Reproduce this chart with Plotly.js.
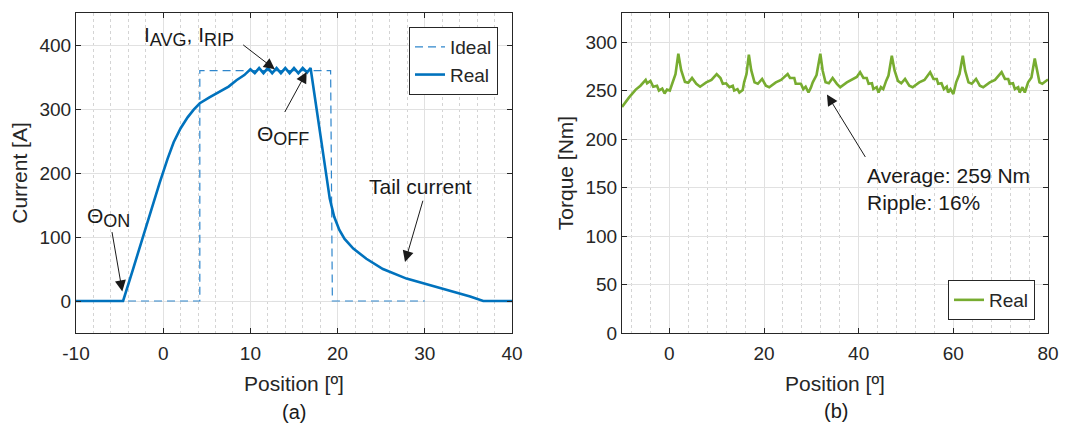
<!DOCTYPE html>
<html>
<head>
<meta charset="utf-8">
<script src="https://cdn.plot.ly/plotly-3.0.1.min.js"></script>
<style>html,body{margin:0;padding:0;background:#fff;}#chart{width:1075px;height:427px;}</style>
</head>
<body>
<div id="chart"></div>
<script>
// ---------- data: panel (a) current ----------
const idealPos = [-10, 4.2, 4.2, 19.2, 19.4, 30];
const idealCurrent = [0, 0, 360, 360, 0, 0];

const realPos = [-10, -4.6, -3.5, -2.3, -1.5, -0.4, 0.5, 1.2, 2.0, 2.8, 3.5, 4.2, 5.3, 6.5, 7.5, 8.4, 9.3,
  10.0, 10.5, 11.0, 11.5, 12.0, 12.5, 13.0, 13.5, 14.0, 14.5, 15.0, 15.5, 16.0, 16.5, 16.9,
  17.6, 18.4, 19.1, 19.6, 20.2, 20.8, 21.8, 23.3, 25.2, 27.9, 30.0, 33.3, 35.2, 36.7, 40];
const realCurrent = [0, 0, 48, 102, 138, 185, 222, 248, 270, 287, 299, 309, 318, 327, 335, 345, 353,
  362, 356, 364, 356, 364, 356, 364, 356, 364, 356, 364, 356, 364, 357, 364,
  299, 224, 160, 132, 111, 97, 82, 66, 50, 35, 27, 15, 7, 0, 0];

// ---------- data: panel (b) torque ----------
const torquePos = [-10, -8.5, -7.1, -6.1, -5.0, -4.7, -4.0, -3.4, -2.6, -2.2, -1.5, -1.0, -0.5, 0.1, 0.6, 1.3,
  1.9, 2.5, 3.3, 4.0, 4.8, 5.7, 6.5, 7.8, 8.9, 10.0, 10.8, 11.3, 12.0, 12.7, 13.4, 13.7, 14.4, 14.8, 15.5, 15.8, 16.3,
  16.8, 17.3, 18.0, 18.7, 19.6, 20.4, 21.1, 22.5, 23.6, 25.0, 25.5, 26.4, 26.7, 27.8, 28.3, 28.8, 29.4, 29.9, 30.3, 31.1,
  31.9, 32.4, 33.0, 33.7, 34.5, 35.4, 36.1, 37.5, 38.6, 39.6, 40.3, 41.0, 41.7, 42.1, 42.8, 43.1, 43.8, 44.2, 44.7, 45.2, 45.8, 46.3,
  47.0, 47.6, 48.3, 49.0, 49.8, 50.7, 51.4, 52.8, 53.9, 55.1, 55.8, 56.5, 56.8, 57.5, 58.0, 58.6, 58.9, 59.4, 60.0, 60.6, 61.3,
  62.0, 62.5, 63.2, 63.9, 64.8, 65.6, 66.3, 67.7, 68.8, 70.2, 70.9, 71.6, 71.9, 72.6, 73.0, 73.7, 74.0, 74.6, 75.1, 75.8, 76.5,
  77.2, 77.7, 78.2, 78.8, 79.4, 80];
const torqueReal = [233, 243, 251, 255, 261, 257.5, 260, 254, 255, 250, 252, 247, 251, 250, 257, 267,
  288, 271, 259, 258, 263, 257, 254, 258.5, 261, 267, 263, 257, 257.5, 253.5, 255, 250, 251.5, 248, 250.5, 258.5, 267,
  287, 271, 258.5, 257, 262, 255, 253.5, 258.5, 261, 267, 263, 263, 257, 257, 251.5, 254, 248, 253, 258.5, 266,
  288, 270.5, 258.5, 257.5, 263, 257, 253.5, 258.5, 261, 264, 269, 263, 263, 257, 257.5, 251.5, 253.5, 248, 253.5, 251.5, 260, 265.5,
  286, 270.5, 260, 257.5, 262, 255, 253.5, 258.5, 261, 269, 262, 262, 257, 257.5, 251.5, 254, 248, 251.5, 246.5, 258.5, 267,
  286, 270.5, 258.5, 257, 262, 255, 253.5, 258.5, 261, 269, 262, 262, 257, 257.5, 251.5, 253.5, 248, 253.5, 248, 258.5, 263.5,
  283, 270.5, 258.5, 257, 259, 261.5];

// ---------- tick labels ----------
const xTicksA = [-10, 0, 10, 20, 30, 40];
const xLabelsA = ['-10', '0', '10', '20', '30', '40'];
const yTicksA = [0, 100, 200, 300, 400];
const xTicksB = [0, 20, 40, 60, 80];
const yTicksB = [0, 50, 100, 150, 200, 250, 300];

const FONT = 'Liberation Sans, Arial, Helvetica, sans-serif';
const TXT = '#262626';
const W = 1075, H = 427;
const px = v => v / W;
const py = v => 1 - v / H;

function axisBase(extra) {
  return Object.assign({
    showline: true, linecolor: TXT, linewidth: 1, mirror: 'ticks',
    ticks: 'inside', ticklen: 5, tickwidth: 1, tickcolor: TXT,
    showgrid: true, gridcolor: '#e1e1e1', gridwidth: 1, zeroline: false,
    tickfont: {family: FONT, size: 19, color: TXT},
    automargin: false, fixedrange: true
  }, extra);
}

const traces = [
  {x: idealPos, y: idealCurrent, name: 'Ideal', type: 'scatter', mode: 'lines',
   line: {color: '#2f86cc', width: 1.2, dash: '8px,5px'}, xaxis: 'x', yaxis: 'y', legend: 'legend'},
  {x: realPos, y: realCurrent, name: 'Real', type: 'scatter', mode: 'lines',
   line: {color: '#0072BD', width: 2.6}, xaxis: 'x', yaxis: 'y', legend: 'legend'},
  {x: torquePos, y: torqueReal, name: 'Real', type: 'scatter', mode: 'lines',
   line: {color: '#77AC30', width: 2.6}, xaxis: 'x2', yaxis: 'y2', legend: 'legend2'}
];

const arrow = (xr, yr, x, y, ax, ay) => ({
  xref: xr, yref: yr, axref: xr, ayref: yr, x: x, y: y, ax: ax, ay: ay,
  text: '', showarrow: true, arrowhead: 2, arrowsize: 2.2, arrowwidth: 1,
  arrowcolor: '#1a1a1a', standoff: 0, startstandoff: 0
});
const label = (text, x, y, xanchor, size) => ({
  xref: 'paper', yref: 'paper', x: px(x), y: py(y), text: text, showarrow: false,
  xanchor: xanchor || 'left', yanchor: 'middle', align: 'left',
  font: {family: FONT, size: size || 21, color: '#1a1a1a'}
});
const sub = s => '<sub><span style="font-size:18px">' + s + '</span></sub>';

const layout = {
  width: W, height: H, margin: {l: 0, r: 0, t: 0, b: 0},
  paper_bgcolor: '#fff', plot_bgcolor: '#fff',
  font: {family: FONT, color: TXT},
  xaxis: axisBase({domain: [px(76), px(512)], range: [-10, 40], tickvals: xTicksA, ticktext: xLabelsA,
    ticklabelstandoff: 3,
    minor: {dtick: 2, tick0: 0, showgrid: true, gridcolor: '#d4d4d4', griddash: 'dot', gridwidth: 1, ticks: ''},
    title: {text: 'Position [º]', font: {family: FONT, size: 21, color: TXT}, standoff: 13}}),
  yaxis: axisBase({domain: [1 - 333 / H, 1 - 13 / H], range: [-50, 450], tickvals: yTicksA,
    title: {text: 'Current [A]', font: {family: FONT, size: 21, color: TXT}, standoff: 6}}),
  xaxis2: axisBase({domain: [px(622), px(1048)], range: [-10, 80], tickvals: xTicksB, anchor: 'y2',
    ticklabelstandoff: 3,
    minor: {dtick: 4, tick0: 0, showgrid: true, gridcolor: '#d4d4d4', griddash: 'dot', gridwidth: 1, ticks: ''},
    title: {text: 'Position [º]', font: {family: FONT, size: 21, color: TXT}, standoff: 13}}),
  yaxis2: axisBase({domain: [1 - 333 / H, 1 - 13 / H], range: [0, 330], tickvals: yTicksB, anchor: 'x2',
    title: {text: 'Torque [Nm]', font: {family: FONT, size: 21, color: TXT}, standoff: 6}}),
  legend: {x: px(498), xanchor: 'right', y: py(27), yanchor: 'top', bgcolor: '#fff',
    bordercolor: TXT, borderwidth: 1, font: {family: FONT, size: 19, color: TXT}, itemwidth: 30, tracegroupgap: 0},
  legend2: {x: px(1035), xanchor: 'right', y: py(320), yanchor: 'bottom', bgcolor: '#fff',
    bordercolor: TXT, borderwidth: 1, font: {family: FONT, size: 19, color: TXT}, itemwidth: 30},
  showlegend: true,
  annotations: [
    arrow('x', 'y', 12.8, 362, 9.0, 402),
    arrow('x', 'y', 16.45, 358, 13.85, 293),
    arrow('x', 'y', -4.69, 15, -5.9, 110),
    arrow('x', 'y', 27.73, 61, 29.83, 159),
    arrow('x2', 'y2', 33.3, 246, 41.6, 180),
    label('I' + sub('AVG') + ', I' + sub('RIP'), 142, 37),
    label('Θ' + sub('OFF'), 255, 135),
    label('Θ' + sub('ON'), 85, 217),
    label('Tail current', 367, 186),
    label('Average: 259 Nm<br>Ripple: 16%', 865, 189),
    label('(a)', 293.5, 412, 'center', 20),
    label('(b)', 835.5, 411, 'center', 20)
  ]
};

Plotly.newPlot('chart', traces, layout, {displayModeBar: false, staticPlot: true});
</script>
</body>
</html>
